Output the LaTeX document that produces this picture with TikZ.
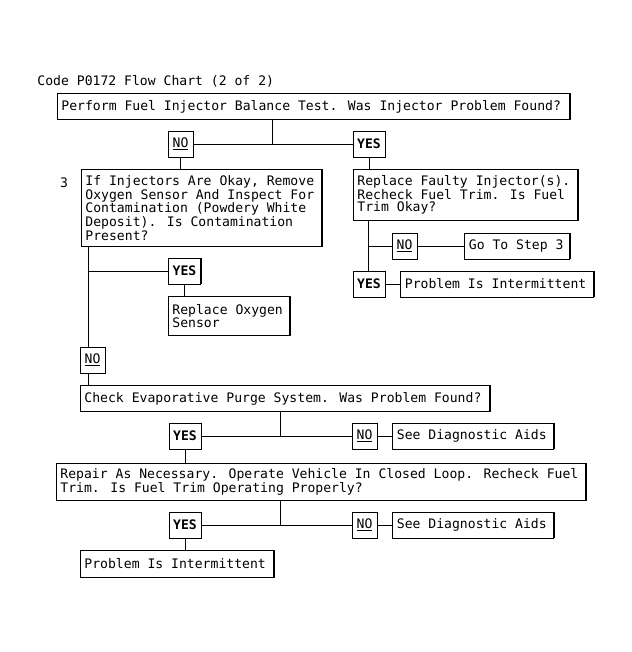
\documentclass[tikz,border=0pt]{standalone}
\usepackage{fontspec}
\usepackage{tikz}
\usetikzlibrary{calc,positioning}
\newfontfamily\chartfont{DejaVu Sans Mono}
\newcommand{\flowfont}{\chartfont\fontsize{13.1}{12.4}\selectfont}

\begin{document}
\begin{tikzpicture}[x=1pt,y=-1pt,line width=0.9pt,node distance=15pt and 15pt]

\tikzset{stepbox/.style={draw,anchor=north west,align=left,inner xsep=4pt,inner ysep=0pt,font=\flowfont,
  execute at begin node={\spaceskip=0pt\xspaceskip=0pt\relax}},
yesbox/.style={draw,inner sep=0pt,minimum width=32pt,minimum height=26pt,font=\flowfont\bfseries},
nobox/.style={draw,inner sep=0pt,minimum width=25pt,minimum height=26pt,font=\flowfont}}

\useasboundingbox (0,0) rectangle (631,652);

% Title
\node[anchor=base west,inner sep=0pt,font=\flowfont] (title) at (37,85.5) {Code P0172 Flow Chart (2 of 2)};

% Balance test
\node[stepbox,text width=504pt,minimum height=26pt] (test) at (57,93) {Perform Fuel Injector Balance Test. Was Injector Problem Found?};
\node[nobox] (no1) at (180.5,144) {\underline{NO}};
\node[yesbox] (yes1) at (369,144) {YES};

% Step 3: oxygen sensor
\node[font=\flowfont] (lbl3) at (64,183) {3};
\node[stepbox,text width=232pt,minimum height=77pt] (oxy) at (81,169) {If Injectors Are Okay, Remove\\Oxygen Sensor And Inspect For\\Contamination (Powdery White\\Deposit). Is Contamination\\Present?};
\node[yesbox] (yes3) at (184.5,271) {YES};
\node[stepbox,text width=113pt,minimum height=39pt] (sensor) at (168,296) {Replace Oxygen\\Sensor};
\node[nobox] (no3) at (92.5,360) {\underline{NO}};

% Faulty injectors
\node[stepbox,text width=216pt,minimum height=51pt] (replace) at (353,169) {Replace Faulty Injector(s).\\Recheck Fuel Trim. Is Fuel\\Trim Okay?};
\node[nobox] (no2) at (404.5,246) {\underline{NO}};
\node[stepbox,text width=97pt,minimum height=26pt,right=47pt of no2] (step3) {Go To Step 3};
\node[yesbox] (yes2) at (369,284) {YES};
\node[stepbox,text width=185pt,minimum height=26pt,right=of yes2] (inter1) {Problem Is Intermittent};

% Evaporative purge
\node[stepbox,text width=401pt,minimum height=26pt] (evap) at (80,385) {Check Evaporative Purge System. Was Problem Found?};
\node[yesbox] (yes4) at (185,436) {YES};
\node[nobox] (no4) at (364.5,436) {\underline{NO}};
\node[stepbox,text width=153pt,minimum height=26pt,right=of no4] (aids1) {See Diagnostic Aids};

% Repair, closed loop
\node[stepbox,text width=521pt,minimum height=37pt] (repair) at (56,463) {Repair As Necessary. Operate Vehicle In Closed Loop. Recheck Fuel\\Trim. Is Fuel Trim Operating Properly?};
\node[yesbox] (yes5) at (185,525) {YES};
\node[nobox] (no5) at (364.5,525) {\underline{NO}};
\node[stepbox,text width=153pt,minimum height=26pt,right=of no5] (aids2) {See Diagnostic Aids};
\node[stepbox,text width=185pt,minimum height=27pt] (inter2) at (80,550) {Problem Is Intermittent};

% heavier right edges
\foreach \b in {test,no1,yes1,oxy,yes3,sensor,no3,replace,no2,step3,yes2,inter1,evap,yes4,no4,aids1,repair,yes5,no5,aids2,inter2}
  \draw[line width=1.5pt] (\b.north east) -- (\b.south east);

% Edges
\coordinate (j1) at (272,144);
\draw (test.south -| j1) -- (j1); \draw (no1) -- (yes1);
\draw (no1.south) -- (no1.south |- oxy.north); \draw (yes1.south) -- (yes1.south |- replace.north);

\coordinate (j3) at (88,271);
\draw (oxy.south -| j3) -- (no3.north -| j3); \draw (j3) -- (yes3.west);
\draw (yes3.south) -- (yes3.south |- sensor.north);
\draw (no3.south -| j3) -- (evap.north -| j3);

\coordinate (j2) at (368,246);
\draw (replace.south -| j2) -- (yes2.north -| j2); \draw (j2) -- (no2.west); \draw (no2) -- (step3);
\draw (yes2) -- (inter1);

\coordinate (j4) at (280,436);
\draw (evap.south -| j4) -- (j4); \draw (yes4) -- (no4); \draw (no4) -- (aids1);
\draw (yes4.south) -- (yes4.south |- repair.north);

\coordinate (j5) at (280,525);
\draw (repair.south -| j5) -- (j5); \draw (yes5) -- (no5); \draw (no5) -- (aids2);
\draw (yes5.south) -- (yes5.south |- inter2.north);

\end{tikzpicture}
\end{document}
